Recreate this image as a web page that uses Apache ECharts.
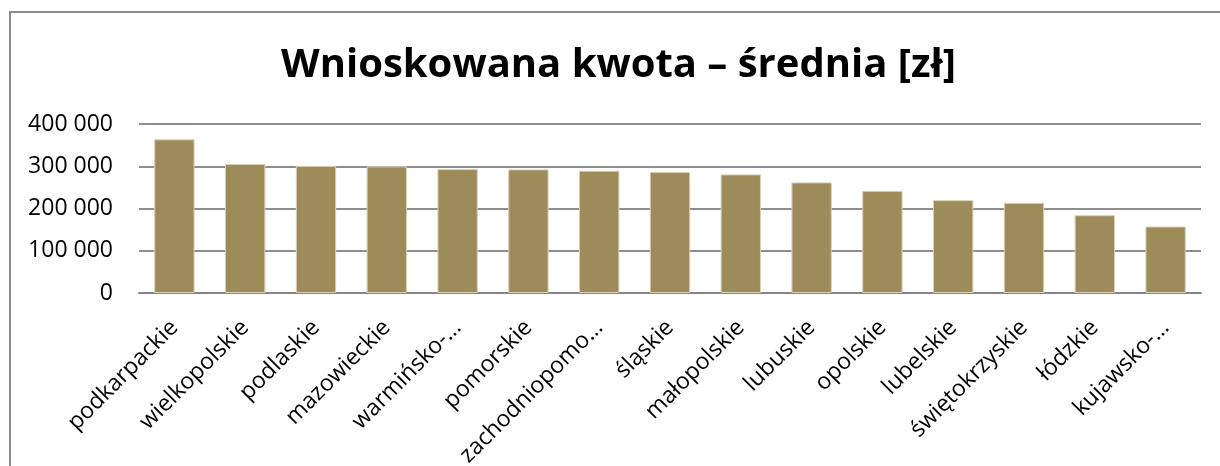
<!DOCTYPE html>
<html>
<head>
<meta charset="utf-8">
<script src="https://cdn.jsdelivr.net/npm/echarts@6/dist/echarts.min.js"></script>
<style>
  html, body { margin: 0; padding: 0; background: #fff; }
  #chart { width: 1220px; height: 466px; }
</style>
</head>
<body>
<div id="chart"></div>
<script>
  var chartTitle = 'Wnioskowana kwota – średnia [zł]';
  var regions = ['podkarpackie', 'wielkopolskie', 'podlaskie', 'mazowieckie', 'warmińsko-…',
    'pomorskie', 'zachodniopomo…', 'śląskie', 'małopolskie', 'lubuskie',
    'opolskie', 'lubelskie', 'świętokrzyskie', 'łódzkie', 'kujawsko-…'];
  var averageAmount = [363700, 305200, 300800, 299700, 293300,
    292600, 289300, 286200, 280700, 261800,
    241800, 219800, 213400, 184200, 157400];
  var yTicks = { min: 0, max: 400000, interval: 100000 };

  var chartDom = document.getElementById('chart');
  var chart = echarts.init(chartDom);

  function formatThousands(v) {
    return String(v).replace(/\B(?=(\d{3})+(?!\d))/g, ' ');
  }

  var options = {
    animation: false,
    title: {
      text: chartTitle,
      left: 276,
      top: 41,
      textStyle: {
        fontFamily: 'Open Sans',
        fontWeight: 'bold',
        fontSize: 40,
        color: '#000'
      }
    },
    legend: null,
    tooltip: { show: false },
    graphic: [{
      type: 'polyline',
      shape: { points: [[10, 466], [10, 12], [1220, 12]] },
      style: { stroke: '#8c8c8c', lineWidth: 2, fill: null }
    }],
    grid: {
      left: 139,
      right: 19,
      top: 124,
      bottom: 173,
      containLabel: false,
      outerBoundsMode: 'none'
    },
    xAxis: {
      type: 'category',
      data: regions,
      axisLine: { lineStyle: { color: '#868686', width: 2 } },
      axisTick: { show: false },
      axisLabel: {
        rotate: 45,
        interval: 0,
        margin: 31,
        fontFamily: 'Open Sans',
        fontSize: 23,
        color: '#000'
      }
    },
    yAxis: {
      type: 'value',
      min: yTicks.min,
      max: yTicks.max,
      interval: yTicks.interval,
      axisLine: { show: false },
      axisTick: { show: false },
      splitLine: { lineStyle: { color: '#8e8e8e', width: 2 } },
      axisLabel: {
        margin: 26,
        fontFamily: 'Open Sans',
        fontSize: 23,
        color: '#000',
        formatter: formatThousands
      }
    },
    series: [{
      type: 'bar',
      data: averageAmount,
      barCategoryGap: '43%',
      itemStyle: {
        color: '#9e8b5a',
        borderColor: '#d9d0b6',
        borderWidth: 1
      }
    }]
  };
  chart.setOption(options, true);
</script>
</body>
</html>
